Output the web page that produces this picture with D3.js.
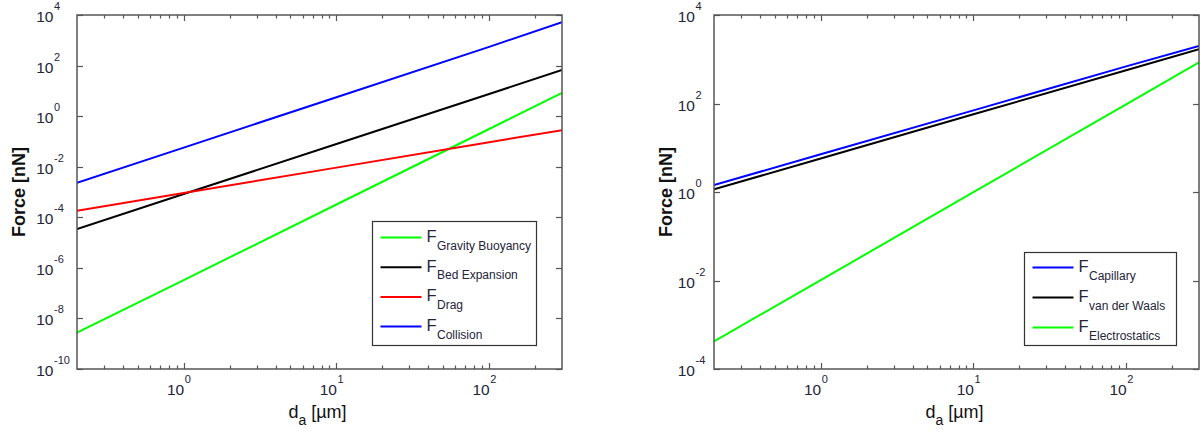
<!DOCTYPE html>
<html>
<head>
<meta charset="utf-8">
<script src="https://cdn.jsdelivr.net/npm/d3@7"></script>
<style>
  body { margin: 0; background: #fff; }
  svg { font-family: "Liberation Sans", Arial, sans-serif; }
</style>
</head>
<body>
<svg id="chart" width="1204" height="435"></svg>
<script>
const diameters = [0.2, 1, 10, 100, 300];

// left panel: forces in the bed [nN]
const gravityBuoyancy = [2.75e-9, 3.3e-7, 3.2e-4, 0.31, 8.3];
const bedExpansion = [3.4e-5, 8.3e-4, 0.079, 7.5, 67];
const drag = [1.8e-4, 9.1e-4, 9.2e-3, 0.093, 0.28];
const collision = [2.3e-3, 0.057, 5.6, 550, 5.2e3];

// right panel: adhesion forces [nN]
const capillary = [1.44, 7.1, 70, 690, 2000];
const vanDerWaals = [1.15, 5.7, 57, 565, 1680];
const electrostatics = [4.2e-4, 0.0102, 0.99, 96, 850];

const xTickExps = [0, 1, 2];
const leftYTickExps = [-10, -8, -6, -4, -2, 0, 2, 4];
const rightYTickExps = [-4, -2, 0, 2, 4];

const leftSeries = [
    { sub: "Gravity Buoyancy", color: "#00ff00", values: gravityBuoyancy },
    { sub: "Bed Expansion", color: "#000000", values: bedExpansion },
    { sub: "Drag", color: "#ff0000", values: drag },
    { sub: "Collision", color: "#0000ff", values: collision }
];
const rightSeries = [
    { sub: "Capillary", color: "#0000ff", values: capillary },
    { sub: "van der Waals", color: "#000000", values: vanDerWaals },
    { sub: "Electrostatics", color: "#00ff00", values: electrostatics }
];

const svg = d3.select("#chart");
const textColor = "#24243a";
const axisColor = "#555";

function drawPanel(p) {
    const x = d3.scaleLog().domain([0.2, 300]).range([p.left, p.right]);
    const y = d3.scaleLog().domain(p.yDomain).range([p.bottom, p.top]);
    const g = svg.append("g");

    const clipId = "clip" + p.id;
    g.append("clipPath").attr("id", clipId)
        .append("rect")
        .attr("x", p.left).attr("y", p.top)
        .attr("width", p.right - p.left).attr("height", p.bottom - p.top);

    // x ticks, bottom and top (pointing in)
    const xt = x.ticks().filter(v => v > 0.2 && v < 300);
    xt.forEach(v => {
        const major = xTickExps.some(e => Math.abs(v - 10 ** e) < 1e-9);
        const len = major ? 6 : 3.5;
        const xx = Math.round(x(v)) + 0.5;
        g.append("line").attr("x1", xx).attr("x2", xx)
            .attr("y1", p.bottom).attr("y2", p.bottom - len)
            .attr("stroke", axisColor).attr("stroke-width", 1.2);
        g.append("line").attr("x1", xx).attr("x2", xx)
            .attr("y1", p.top).attr("y2", p.top + len)
            .attr("stroke", axisColor).attr("stroke-width", 1.2);
    });

    // y ticks, left and right
    p.yTickExps.forEach(e => {
        const yy = Math.round(y(10 ** e)) + 0.5;
        g.append("line").attr("x1", p.left).attr("x2", p.left + 6)
            .attr("y1", yy).attr("y2", yy)
            .attr("stroke", axisColor).attr("stroke-width", 1.2);
        g.append("line").attr("x1", p.right).attr("x2", p.right - 6)
            .attr("y1", yy).attr("y2", yy)
            .attr("stroke", axisColor).attr("stroke-width", 1.2);

        g.append("text")
            .attr("x", p.left - p.yLabGap).attr("y", yy + 6)
            .attr("fill", textColor).attr("font-size", 15.5)
            .attr("text-anchor", "end")
            .text("10");
        g.append("text")
            .attr("x", p.left - p.yLabGap + 0.5).attr("y", yy - 6)
            .attr("fill", textColor).attr("font-size", 11)
            .text(e);
    });

    // x tick labels
    xTickExps.forEach(e => {
        const xx = x(10 ** e);
        g.append("text")
            .attr("x", xx + 0.5).attr("y", p.bottom + 25.5)
            .attr("fill", textColor).attr("font-size", 15.5)
            .attr("text-anchor", "end")
            .text("10");
        g.append("text")
            .attr("x", xx + 1).attr("y", p.bottom + 14)
            .attr("fill", textColor).attr("font-size", 11)
            .text(e);
    });

    // series
    const line = d3.line()
        .x((d, i) => x(diameters[i]))
        .y(d => y(d));
    p.series.forEach(s => {
        g.append("path")
            .attr("d", line(s.values))
            .attr("fill", "none")
            .attr("stroke", s.color)
            .attr("stroke-width", 2)
            .attr("clip-path", `url(#${clipId})`);
    });

    // box
    g.append("rect")
        .attr("x", p.left).attr("y", p.top)
        .attr("width", p.right - p.left).attr("height", p.bottom - p.top)
        .attr("fill", "none").attr("stroke", axisColor).attr("stroke-width", 1.5);

    // axis labels
    const xl = g.append("text")
        .attr("x", (p.left + p.right) / 2 - 2).attr("y", p.bottom + 49)
        .attr("fill", "#111").attr("font-size", 18)
        .attr("text-anchor", "middle");
    xl.append("tspan").text("d");
    xl.append("tspan").attr("font-size", 14).attr("dy", 7).text("a");
    xl.append("tspan").attr("dy", -7).text(" [\u00b5m]");

    g.append("text")
        .attr("transform", `translate(${p.yLabelX},${(p.top + p.bottom) / 2}) rotate(-90)`)
        .attr("text-anchor", "middle")
        .attr("fill", "#111").attr("font-size", 18).attr("font-weight", "bold")
        .text("Force [nN]");

    // legend
    const L = p.legend;
    g.append("rect")
        .attr("x", L.x0).attr("y", L.y0)
        .attr("width", L.x1 - L.x0).attr("height", L.y1 - L.y0)
        .attr("fill", "#fff").attr("stroke", "#333").attr("stroke-width", 1.2);
    p.series.forEach((s, i) => {
        const ry = L.firstRow + i * L.step;
        g.append("line")
            .attr("x1", L.x0 + 8).attr("x2", L.x0 + 49)
            .attr("y1", ry).attr("y2", ry)
            .attr("stroke", s.color).attr("stroke-width", 2);
        g.append("text")
            .attr("x", L.x0 + 54).attr("y", ry + 4.5)
            .attr("fill", textColor).attr("font-size", 16.5)
            .text("F");
        g.append("text")
            .attr("x", L.x0 + 64.5).attr("y", ry + 12)
            .attr("fill", textColor).attr("font-size", 12)
            .text(s.sub);
    });
}

drawPanel({
    id: "L", left: 77, right: 562, top: 15, bottom: 369,
    yDomain: [1e-10, 1e4], yTickExps: leftYTickExps, yLabGap: 23.5, yLabelX: 25,
    series: leftSeries,
    legend: { x0: 372.5, x1: 536.5, y0: 221.5, y1: 345.5, firstRow: 237.5, step: 29.7 }
});

drawPanel({
    id: "R", left: 714, right: 1199, top: 15, bottom: 369,
    yDomain: [1e-4, 1e4], yTickExps: rightYTickExps, yLabGap: 19, yLabelX: 672,
    series: rightSeries,
    legend: { x0: 1024.5, x1: 1176.5, y0: 252.5, y1: 345.5, firstRow: 267.5, step: 30 }
});
</script>
</body>
</html>
